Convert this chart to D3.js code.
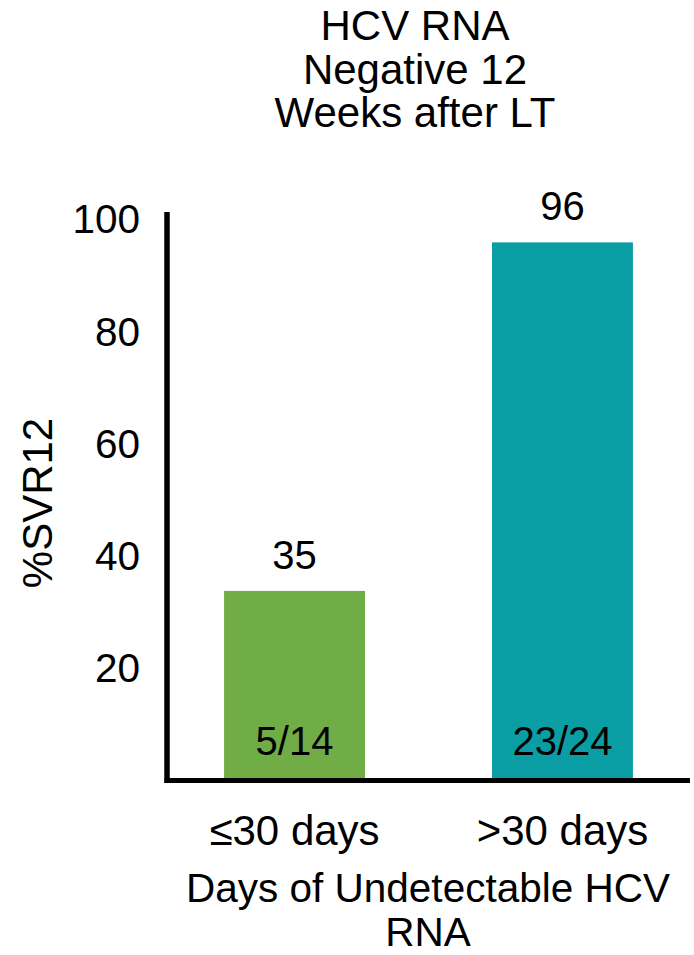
<!DOCTYPE html>
<html>
<head>
<meta charset="utf-8">
<script src="https://cdn.jsdelivr.net/npm/d3@7"></script>
<style>
  html, body { margin: 0; padding: 0; background: #fff; }
  svg { display: block; font-family: Arial, "Liberation Sans", sans-serif; }
</style>
</head>
<body>
<script>
const categories = ["≤30 days", ">30 days"];
const barValues = [33.6, 95.7];
const valueLabels = ["35", "96"];
const countLabels = ["5/14", "23/24"];
const barColors = ["#70AD47", "#0B9DA4"];
const yTicks = [20, 40, 60, 80, 100];
const titleLines = ["HCV RNA", "Negative 12", "Weeks after LT"];
const xTitleLines = ["Days of Undetectable HCV", "RNA"];
const yTitle = "%SVR12";

const W = 694, H = 955;
const FONT = "Arial, 'Liberation Sans', sans-serif";
const svg = d3.select("body").append("svg").attr("width", W).attr("height", H);

const x = d3.scaleBand().domain(categories).range([167, 690]).paddingInner(0.474).paddingOuter(0.213);
const y = d3.scaleLinear().domain([0, 100]).range([779.5, 218.25]);

// title
svg.append("g").selectAll("text").data(titleLines).join("text")
  .attr("x", 415).attr("y", (d, i) => 40 + i * 43.5)
  .attr("text-anchor", "middle").attr("font-size", 42).attr("fill", "#000")
  .text(d => d);

// bars
svg.append("g").selectAll("rect").data(categories).join("rect")
  .attr("x", d => x(d)).attr("width", x.bandwidth())
  .attr("y", (d, i) => y(barValues[i]))
  .attr("height", (d, i) => y(0) - y(barValues[i]))
  .attr("fill", (d, i) => barColors[i]);

// value labels above bars
svg.append("g").selectAll("text").data(categories).join("text")
  .attr("x", d => x(d) + x.bandwidth() / 2)
  .attr("y", (d, i) => y(barValues[i]) - 22)
  .attr("text-anchor", "middle").attr("font-size", 40)
  .text((d, i) => valueLabels[i]);

// count labels inside bars
svg.append("g").selectAll("text").data(categories).join("text")
  .attr("x", d => x(d) + x.bandwidth() / 2)
  .attr("y", 755)
  .attr("text-anchor", "middle").attr("font-size", 40)
  .text((d, i) => countLabels[i]);

// y axis
const yAxis = d3.axisLeft(y).tickValues(yTicks).tickSize(0).tickPadding(27).tickFormat(d3.format("d"));
const gy = svg.append("g").attr("transform", "translate(167,0)").call(yAxis);
gy.select(".domain").remove();
gy.selectAll("text").attr("font-size", 40.5).attr("font-family", FONT).attr("fill", "#000").attr("dy", "0.36em");
svg.append("line").attr("x1", 167).attr("x2", 167).attr("y1", 212).attr("y2", 783)
  .attr("stroke", "#000").attr("stroke-width", 5.5);

// x axis
const xAxis = d3.axisBottom(x).tickSize(0).tickPadding(0);
const gx = svg.append("g").attr("transform", "translate(0,780.5)").call(xAxis);
gx.select(".domain").remove();
gx.selectAll("text").attr("font-size", 42).attr("font-family", FONT).attr("fill", "#000").attr("dy", 0).attr("y", 64);
svg.append("line").attr("x1", 164.5).attr("x2", 690).attr("y1", 780.5).attr("y2", 780.5)
  .attr("stroke", "#000").attr("stroke-width", 5);

// y title
svg.append("text").attr("transform", "translate(52,503) rotate(-90)")
  .attr("text-anchor", "middle").attr("font-size", 42).text(yTitle);

// x title
svg.append("g").selectAll("text").data(xTitleLines).join("text")
  .attr("x", 428).attr("y", (d, i) => 902 + i * 44)
  .attr("text-anchor", "middle").attr("font-size", 40.5).text(d => d);
</script>
</body>
</html>
